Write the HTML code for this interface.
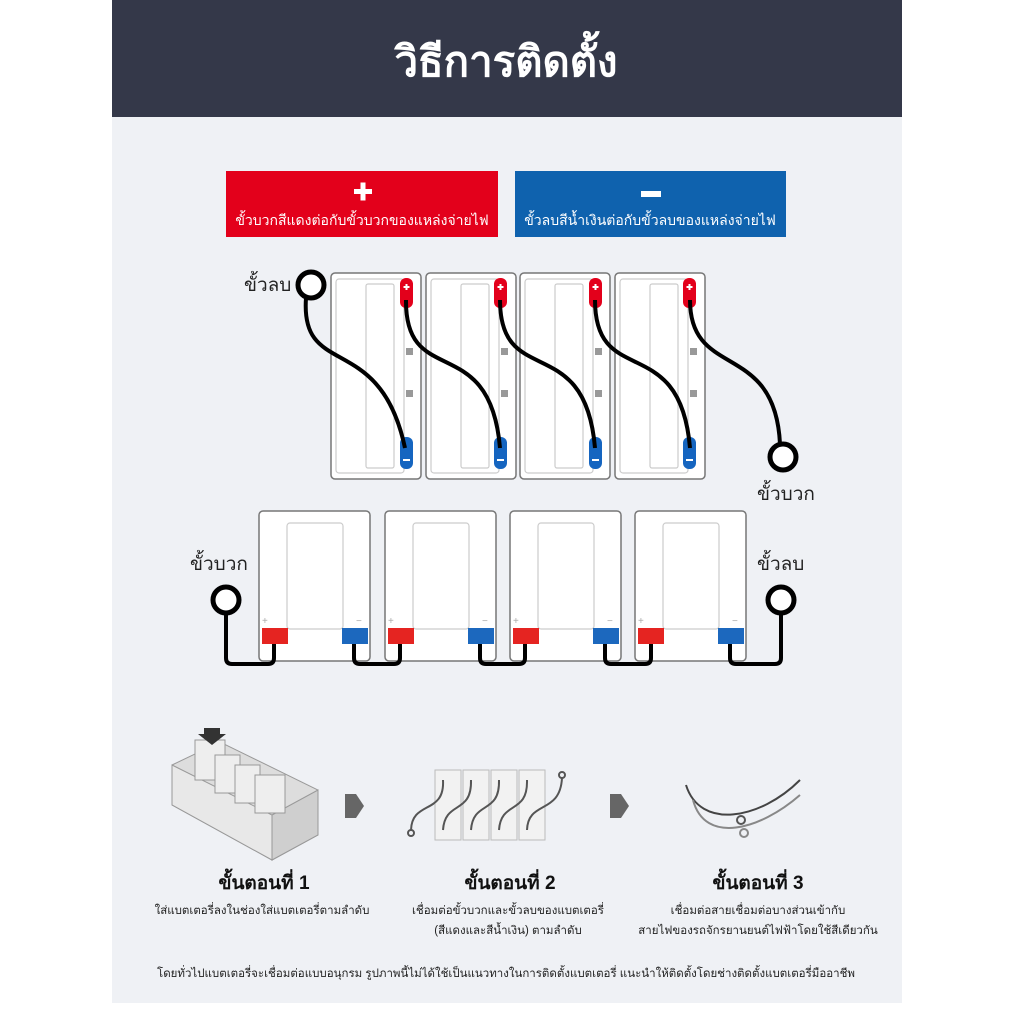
<!DOCTYPE html>
<html><head><meta charset="utf-8"><style>
html,body{margin:0;padding:0;background:#fff;width:1013px;height:1013px;overflow:hidden}
svg text{font-family:"Liberation Sans","DejaVu Sans",sans-serif}
</style></head><body>
<svg width="1013" height="1013" viewBox="0 0 1013 1013" xmlns="http://www.w3.org/2000/svg">
<rect x="0" y="0" width="1013" height="1013" fill="#fff"/>
<rect x="112" y="0" width="790" height="1003" fill="#eff1f5"/>
<rect x="112" y="0" width="790" height="117" fill="#343849"/>
<text x="506" y="76" font-size="42" font-weight="bold" fill="#fff" text-anchor="middle">วิธีการติดตั้ง</text>

<rect x="226" y="171" width="272" height="66" fill="#e3001b"/>
<rect x="354" y="189" width="18" height="5" fill="#fff"/><rect x="360.5" y="182.5" width="5" height="18" fill="#fff"/>
<text x="362" y="225" font-size="14" fill="#fff" text-anchor="middle">ขั้วบวกสีแดงต่อกับขั้วบวกของแหล่งจ่ายไฟ</text>
<rect x="515" y="171" width="271" height="66" fill="#0f62ae"/>
<rect x="641" y="191" width="20" height="6" fill="#fff"/>
<text x="650" y="225" font-size="14" fill="#fff" text-anchor="middle">ขั้วลบสีน้ำเงินต่อกับขั้วลบของแหล่งจ่ายไฟ</text>

<!-- top batteries -->
<g fill="#fff" stroke="#777" stroke-width="1.5">
<rect x="331" y="273" width="90" height="206" rx="4"/>
<rect x="426" y="273" width="90" height="206" rx="4"/>
<rect x="520" y="273" width="90" height="206" rx="4"/>
<rect x="615" y="273" width="90" height="206" rx="4"/>
</g>
<g fill="none" stroke="#ccc" stroke-width="1.2">
<rect x="336" y="279" width="68" height="194" rx="3"/><rect x="366" y="284" width="28" height="184" rx="2"/>
<rect x="431" y="279" width="68" height="194" rx="3"/><rect x="461" y="284" width="28" height="184" rx="2"/>
<rect x="525" y="279" width="68" height="194" rx="3"/><rect x="555" y="284" width="28" height="184" rx="2"/>
<rect x="620" y="279" width="68" height="194" rx="3"/><rect x="650" y="284" width="28" height="184" rx="2"/>
</g>
<g fill="#999">
<rect x="406" y="348" width="7" height="7"/><rect x="406" y="390" width="7" height="7"/>
<rect x="501" y="348" width="7" height="7"/><rect x="501" y="390" width="7" height="7"/>
<rect x="595" y="348" width="7" height="7"/><rect x="595" y="390" width="7" height="7"/>
<rect x="690" y="348" width="7" height="7"/><rect x="690" y="390" width="7" height="7"/>
</g>
<g fill="#e3001b">
<rect x="400" y="278" width="13" height="30" rx="6"/><rect x="494" y="278" width="13" height="30" rx="6"/>
<rect x="589" y="278" width="13" height="30" rx="6"/><rect x="683" y="278" width="13" height="30" rx="6"/>
</g>
<g fill="#1565c0">
<rect x="400" y="437" width="13" height="32" rx="6"/><rect x="494" y="437" width="13" height="32" rx="6"/>
<rect x="589" y="437" width="13" height="32" rx="6"/><rect x="683" y="437" width="13" height="32" rx="6"/>
</g>
<g fill="#fff">
<rect x="403.5" y="286" width="6" height="2"/><rect x="405.5" y="284" width="2" height="6"/>
<rect x="497.5" y="286" width="6" height="2"/><rect x="499.5" y="284" width="2" height="6"/>
<rect x="592.5" y="286" width="6" height="2"/><rect x="594.5" y="284" width="2" height="6"/>
<rect x="686.5" y="286" width="6" height="2"/><rect x="688.5" y="284" width="2" height="6"/>
<rect x="403" y="459" width="7" height="2"/><rect x="497" y="459" width="7" height="2"/>
<rect x="592" y="459" width="7" height="2"/><rect x="686" y="459" width="7" height="2"/>
</g>
<g fill="none" stroke="#000" stroke-width="4">
<path d="M306 298 C300 380,380 330,405 448"/>
<path d="M406 300 C405 390,490 330,500 448"/>
<path d="M500 300 C500 390,585 330,595 448"/>
<path d="M595 300 C595 390,680 330,690 448"/>
<path d="M690 300 C690 380,775 340,780 444"/>
</g>
<circle cx="311" cy="285" r="13" fill="#fff" stroke="#000" stroke-width="5"/>
<circle cx="783" cy="457" r="13" fill="#fff" stroke="#000" stroke-width="5"/>
<text x="244" y="291" font-size="19" fill="#222">ขั้วลบ</text>
<text x="757" y="500" font-size="19" fill="#222">ขั้วบวก</text>

<!-- bottom batteries -->
<g fill="#fff" stroke="#777" stroke-width="1.5">
<rect x="259" y="511" width="111" height="150" rx="4"/>
<rect x="385" y="511" width="111" height="150" rx="4"/>
<rect x="510" y="511" width="111" height="150" rx="4"/>
<rect x="635" y="511" width="111" height="150" rx="4"/>
</g>
<g fill="none" stroke="#ccc" stroke-width="1.2">
<rect x="287" y="523" width="56" height="106" rx="3"/><rect x="413" y="523" width="56" height="106" rx="3"/>
<rect x="538" y="523" width="56" height="106" rx="3"/><rect x="663" y="523" width="56" height="106" rx="3"/>
</g>
<g fill="#aaa" font-size="10">
<text x="262" y="624">+</text><text x="388" y="624">+</text><text x="513" y="624">+</text><text x="638" y="624">+</text>
<text x="356" y="624">−</text><text x="482" y="624">−</text><text x="607" y="624">−</text><text x="732" y="624">−</text>
</g>
<g fill="#e52421">
<rect x="262" y="628" width="26" height="16"/><rect x="388" y="628" width="26" height="16"/>
<rect x="513" y="628" width="26" height="16"/><rect x="638" y="628" width="26" height="16"/>
</g>
<g fill="#1c68be">
<rect x="342" y="628" width="26" height="16"/><rect x="468" y="628" width="26" height="16"/>
<rect x="593" y="628" width="26" height="16"/><rect x="718" y="628" width="26" height="16"/>
</g>
<g fill="none" stroke="#000" stroke-width="4" stroke-linejoin="round">
<path d="M226 613 V658 Q226 664 232 664 H268 Q274 664 274 658 V644"/>
<path d="M354 644 V658 Q354 664 360 664 H394 Q400 664 400 658 V644"/>
<path d="M480 644 V658 Q480 664 486 664 H519 Q525 664 525 658 V644"/>
<path d="M605 644 V658 Q605 664 611 664 H645 Q651 664 651 658 V644"/>
<path d="M730 644 V658 Q730 664 736 664 H775 Q781 664 781 658 V613"/>
</g>
<circle cx="226" cy="600" r="13" fill="#fff" stroke="#000" stroke-width="5"/>
<circle cx="781" cy="600" r="13" fill="#fff" stroke="#000" stroke-width="5"/>
<text x="190" y="570" font-size="19" fill="#222">ขั้วบวก</text>
<text x="757" y="570" font-size="19" fill="#222">ขั้วลบ</text>

<!-- steps -->
<g fill="#ddd" stroke="#999" stroke-width="1">
<polygon points="172,765 220,742 318,790 318,835 272,860 172,805"/>
<polygon points="172,765 272,815 272,860 172,805" fill="#e8e8e8"/>
<polygon points="272,815 318,790 318,835 272,860" fill="#cfcfcf"/>
<rect x="195" y="740" width="30" height="40" fill="#eee"/>
<rect x="215" y="755" width="25" height="38" fill="#eee"/>
<rect x="235" y="765" width="25" height="38" fill="#eee"/>
<rect x="255" y="775" width="30" height="38" fill="#eee"/>
</g>
<polygon points="204,728 220,728 220,734 226,734 212,745 198,734 204,734" fill="#333"/>
<polygon points="345,794 356,794 364,806 356,818 345,818" fill="#666"/>
<polygon points="610,794 621,794 629,806 621,818 610,818" fill="#666"/>
<g fill="#f2f2f2" stroke="#bbb" stroke-width="1">
<rect x="435" y="770" width="26" height="70"/><rect x="463" y="770" width="26" height="70"/>
<rect x="491" y="770" width="26" height="70"/><rect x="519" y="770" width="26" height="70"/>
</g>
<g fill="none" stroke="#555" stroke-width="2">
<path d="M411 830 C412 800,445 815,443 780"/>
<path d="M443 830 C445 800,472 815,471 780"/>
<path d="M471 830 C473 800,500 815,499 780"/>
<path d="M499 830 C501 800,528 815,527 780"/>
<path d="M527 830 C528 800,560 815,562 778"/>
<circle cx="411" cy="833" r="3"/><circle cx="562" cy="775" r="3"/>
<path d="M686 785 C700 830,760 820,800 780" stroke="#444"/>
<path d="M693 800 C705 845,760 830,800 795" stroke="#888"/>
<circle cx="741" cy="820" r="4"/><circle cx="744" cy="833" r="4" stroke="#888"/>
</g>
<text x="264" y="889" font-size="19" font-weight="bold" fill="#111" text-anchor="middle">ขั้นตอนที่ 1</text>
<text x="510" y="889" font-size="19" font-weight="bold" fill="#111" text-anchor="middle">ขั้นตอนที่ 2</text>
<text x="758" y="889" font-size="19" font-weight="bold" fill="#111" text-anchor="middle">ขั้นตอนที่ 3</text>
<g font-size="11.5" fill="#222" text-anchor="middle">
<text x="262" y="914">ใส่แบตเตอรี่ลงในช่องใส่แบตเตอรี่ตามลำดับ</text>
<text x="508" y="914">เชื่อมต่อขั้วบวกและขั้วลบของแบตเตอรี่</text>
<text x="508" y="934">(สีแดงและสีน้ำเงิน) ตามลำดับ</text>
<text x="758" y="914">เชื่อมต่อสายเชื่อมต่อบางส่วนเข้ากับ</text>
<text x="758" y="934">สายไฟของรถจักรยานยนต์ไฟฟ้าโดยใช้สีเดียวกัน</text>
<text x="506" y="977">โดยทั่วไปแบตเตอรี่จะเชื่อมต่อแบบอนุกรม รูปภาพนี้ไม่ได้ใช้เป็นแนวทางในการติดตั้งแบตเตอรี่ แนะนำให้ติดตั้งโดยช่างติดตั้งแบตเตอรี่มืออาชีพ</text>
</g>
</svg>
</body></html>
